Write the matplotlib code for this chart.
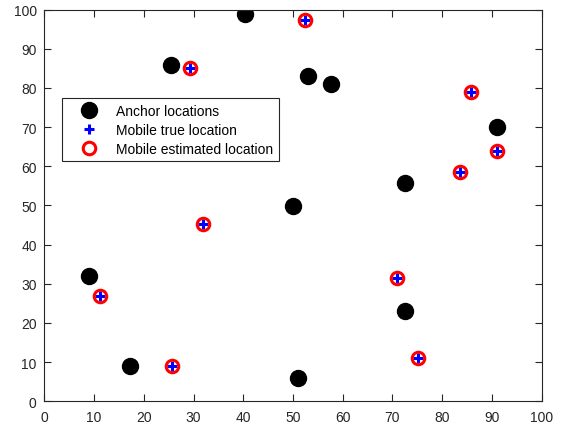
import matplotlib.pyplot as plt

plt.rcParams['font.family'] = ['Liberation Sans', 'DejaVu Sans']

# anchor positions
anchor_x = [40.3, 25.5, 53.0, 57.6, 91.0, 72.6, 49.9, 9.0, 72.6, 17.3, 51.1]
anchor_y = [98.8, 85.8, 83.0, 81.0, 69.9, 55.6, 49.9, 32.1, 23.0, 9.1, 6.0]

# mobile true positions
mobile_x = [29.2, 52.4, 85.8, 91.1, 83.6, 32.0, 11.1, 25.7, 71.0, 75.1]
mobile_y = [85.1, 97.3, 78.9, 64.0, 58.6, 45.3, 27.0, 9.0, 31.4, 11.1]

# estimated positions (practically on top of the true ones)
est_x = [29.2, 52.4, 85.8, 91.1, 83.6, 32.0, 11.1, 25.7, 71.0, 75.1]
est_y = [85.1, 97.3, 78.9, 64.0, 58.6, 45.3, 27.0, 9.0, 31.4, 11.1]

fig = plt.figure(figsize=(5.61, 4.27), dpi=100)
ax = fig.add_axes([0.079, 0.0578, 0.8866, 0.9176])

ax.plot(anchor_x, anchor_y, 'o', color='black', markersize=11.5,
        linestyle='none', label='Anchor locations')
ax.plot(mobile_x, mobile_y, '+', color='blue', markersize=7, markeredgewidth=2.2,
        linestyle='none', label='Mobile true location')
ax.plot(est_x, est_y, 'o', markerfacecolor='none', markeredgecolor='red',
        markersize=9, markeredgewidth=2.2, linestyle='none',
        label='Mobile estimated location')

ax.set_xlim(0, 100)
ax.set_ylim(0, 100)
ax.set_xticks(range(0, 101, 10))
ax.set_yticks(range(0, 101, 10))
ax.tick_params(direction='in', top=True, right=True, length=5, width=0.8,
               colors='#262626', labelsize=10)
ax.tick_params(axis='x', pad=6.5)
ax.tick_params(axis='y', pad=5.5)
for s in ax.spines.values():
    s.set_color('#262626')
    s.set_linewidth(0.8)

leg = ax.legend(loc='upper left', bbox_to_anchor=(0.1105, 0.768),
                bbox_transform=fig.transFigure, fancybox=False, framealpha=1,
                edgecolor='#262626', fontsize=10, borderaxespad=0,
                handlelength=3.1, handletextpad=0.4, labelspacing=0.37,
                borderpad=0.4)
leg.get_frame().set_linewidth(0.8)

fig.savefig('out.png', dpi=100)
